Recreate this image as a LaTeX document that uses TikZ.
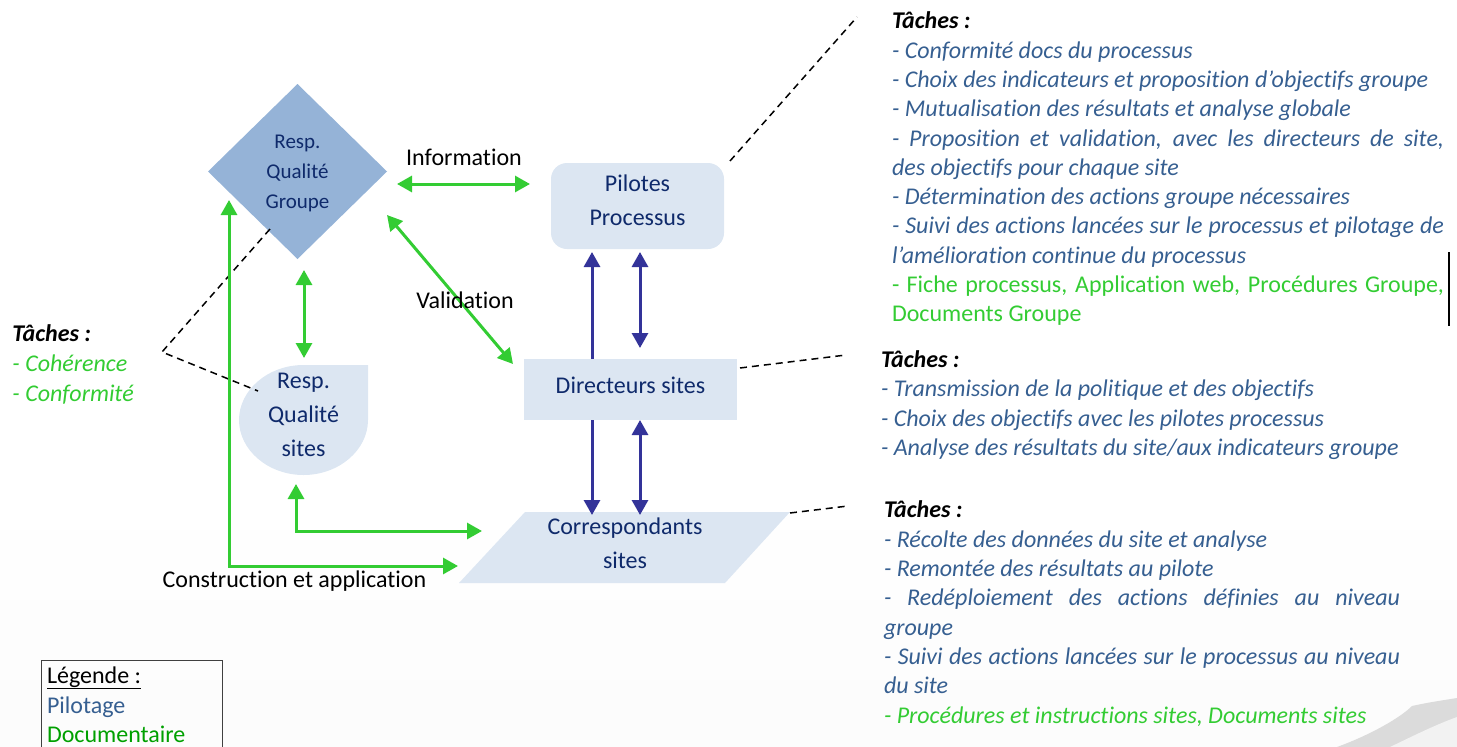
\documentclass[tikz,border=0pt]{standalone}
\usepackage{fontspec}
\setmainfont[Ligatures=NoCommon]{Carlito}
\usetikzlibrary{arrows.meta,shapes.geometric}
\definecolor{navy}{HTML}{0F2A6B}
\definecolor{pale}{HTML}{DCE6F2}
\definecolor{midblue}{HTML}{95B3D7}
\definecolor{gr}{HTML}{33CC33}
\definecolor{ind}{HTML}{333399}
\definecolor{tb}{HTML}{365F91}
\definecolor{dg}{HTML}{00A000}
\definecolor{fogA}{HTML}{FEFEFE}
\definecolor{fogB}{HTML}{FDFDFD}
\definecolor{fogC}{HTML}{FCFCFC}
\newcommand{\fs}{\fontsize{24}{30}\selectfont}
\newcommand{\jl}[2]{\makebox[#1][s]{#2}}
\tikzset{
  shp/.style={inner sep=0,outer sep=0,text=navy,align=center,font=\fs},
  lab/.style={inner sep=0,outer sep=0,text=black,font=\fs},
  tl/.style={inner sep=0,outer sep=0,anchor=base west,yshift=-1pt,font=\fs\itshape,text=tb},
  tlg/.style={tl,text=gr},
  th/.style={tl,font=\fs\bfseries\itshape,text=black},
  lg/.style={inner sep=0,outer sep=0,anchor=base west,font=\fs},
  garr/.style={draw=gr,line width=3pt,{Triangle[length=15pt,width=16pt]}-{Triangle[length=15pt,width=16pt]}},
  barr/.style={draw=ind,line width=3pt,{Triangle[length=15pt,width=16pt]}-{Triangle[length=15pt,width=16pt]}},
  barrs/.style={draw=ind,line width=3pt,-{Triangle[length=15pt,width=16pt]}},
  dsh/.style={draw=black,line width=1.5pt,dash pattern=on 7pt off 5pt},
}
\begin{document}
\begin{tikzpicture}[x=1pt,y=-1pt]
\useasboundingbox (0,0) rectangle (1457,747);
% faint background
\fill[fogA] (0,530) rectangle (1457,747);
\fill[fogB] (0,600) rectangle (1457,747);
\fill[fogC] (0,680) rectangle (1457,747);
\fill[black!14] (1337,747) .. controls (1370,735) and (1400,718) .. (1412,706) .. controls (1430,702) and (1445,700) .. (1457,698) -- (1457,747) -- cycle;
\fill[black!5] (1390,747) .. controls (1415,735) and (1435,725) .. (1457,717) -- (1457,747) -- cycle;
% shapes
\node[shape=diamond,aspect=1.023,minimum width=179pt,minimum height=175pt,fill=midblue,inner sep=0,outer sep=0] (rqg) at (297.5,171.5) {};
\node[shp,font=\fontsize{21}{30}\selectfont] (rqgt) at (297.5,173.5) {Resp.\\Qualité\\Groupe};
\node[rectangle,rounded corners=16pt,fill=pale,minimum width=173pt,minimum height=86pt,inner sep=0,outer sep=0] (pil) at (637.5,206) {};
\node[shp] (pilt) at (637.5,200) {Pilotes\\[4pt]Processus};
\node[rectangle,fill=pale,minimum width=213pt,minimum height=61pt,shp,anchor=center] (dir) at (630.5,389.5) {\raisebox{9pt}{Directeurs sites}};
\fill[pale] (525,512) -- (790,512) -- (725,583) -- (459,583) -- cycle;
\node[shp,minimum width=200pt,minimum height=71pt] (corr) at (625,543.5) {Correspondants\\[4pt]sites};
\fill[pale] (368,365) -- (303.5,365) .. controls (268,365) and (239,390) .. (239,420) .. controls (239,450) and (268,475) .. (303.5,475) .. controls (339,475) and (368,450) .. (368,420) -- cycle;
\node[shp,minimum width=129pt,minimum height=110pt] (rqs) at (303.5,415) {Resp.\\[4pt]Qualité\\[4pt]sites};
% dashed leaders
\coordinate (tg) at (162,352);
\coordinate (dsA) at (270,229);
\coordinate (dsB) at (258,391);
\coordinate (dp1) at (730,161);
\coordinate (dp2) at (857,17);
\coordinate (dd1) at (740,368);
\coordinate (dd2) at (846,355);
\coordinate (dc1) at (790,513);
\coordinate (dc2) at (848,506);
\draw[dsh] (dsA) -- (tg) -- (dsB);
\draw[dsh] (dp1) -- (dp2);
\draw[dsh] (dd1) -- (dd2);
\draw[dsh] (dc1) -- (dc2);
% green connectors
\coordinate (a1) at (397,184);
\coordinate (a2) at (530,184);
\coordinate (b1) at (387,215);
\coordinate (b2) at (513,364);
\coordinate (c1) at (304,270);
\coordinate (c2) at (304,358);
\coordinate (d1) at (229,200);
\coordinate (d2) at (458,566);
\coordinate (e1) at (296,484);
\coordinate (e2) at (482,531);
\draw[garr] (a1) -- (a2);
\draw[garr] (b1) -- (b2);
\draw[garr] (c1) -- (c2);
\draw[garr] (d1) |- (d2);
\draw[garr] (e1) |- (e2);
% blue connectors
\coordinate (f1) at (592,252);
\coordinate (f2) at (592,359);
\coordinate (g1) at (640,252);
\coordinate (g2) at (640,348);
\coordinate (h1) at (592,420);
\coordinate (h2) at (592,515);
\coordinate (i1) at (640,420);
\coordinate (i2) at (640,515);
\draw[barrs] (f2) -- (f1);
\draw[barr] (g1) -- (g2);
\draw[barrs] (h1) -- (h2);
\draw[barr] (i1) -- (i2);
% connector labels
\node[lab] (linfo) at (464,157) {Information};
\node[lab] (lval) at (465,300) {Validation};
\node[lab] (lcons) at (294.5,581) {Construction et application};
% left tasks
\node[th] (t0) at (12.5,340) {Tâches :};
\node[tlg] (t1) at (12.5,370) {- Cohérence};
\node[tlg] (t2) at (12.5,400) {- Conformité};
% top block
\node[th] (p0) at (892,27) {Tâches :};
\node[tl] (p1) at (892,57) {- Conformité docs du processus};
\node[tl] (p2) at (892,86) {- Choix des indicateurs et proposition d’objectifs groupe};
\node[tl] (p3) at (892,115) {- Mutualisation des résultats et analyse globale};
\node[tl] (p4) at (892,145) {\jl{552pt}{- Proposition et validation, avec les directeurs de site,}};
\node[tl] (p5) at (892,174) {des objectifs pour chaque site};
\node[tl] (p6) at (892,203) {- Détermination des actions groupe nécessaires};
\node[tl] (p7) at (892,232) {\jl{552pt}{- Suivi des actions lancées sur le processus et pilotage de}};
\node[tl] (p8) at (892,262) {l’amélioration continue du processus};
\node[tlg,font=\fs] (p9) at (892,291) {\jl{552pt}{- Fiche processus, Application web, Procédures Groupe,}};
\node[tlg,font=\fs] (p10) at (892,320) {Documents Groupe};
\draw[black,line width=1.5pt] (1449,252) -- (1449,326);
% middle block
\node[th] (m0) at (881,366) {Tâches :};
\node[tl] (m1) at (881,395) {- Transmission de la politique et des objectifs};
\node[tl] (m2) at (881,425) {- Choix des objectifs avec les pilotes processus};
\node[tl] (m3) at (881,454) {- Analyse des résultats du site/aux indicateurs groupe};
% lower block
\node[th] (c0) at (884,516) {Tâches :};
\node[tl] (c1t) at (884,546) {- Récolte des données du site et analyse};
\node[tl] (c2t) at (884,575) {- Remontée des résultats au pilote};
\node[tl] (c3t) at (884,604) {\jl{516pt}{- Redéploiement des actions définies au niveau}};
\node[tl] (c4t) at (884,634) {groupe};
\node[tl] (c5t) at (884,663) {\jl{516pt}{- Suivi des actions lancées sur le processus au niveau}};
\node[tl] (c6t) at (884,692) {du site};
\node[tlg] (c7t) at (884,722) {- Procédures et instructions sites, Documents sites};
% legend
\draw[black!75,line width=1pt] (41,748) -- (41,660) -- (222,660) -- (222,748);
\node[lg] (lg0) at (47,683) {\underline{Légende :}};
\node[lg,text=tb] (lg1) at (47,713) {Pilotage};
\node[lg,text=dg] (lg2) at (47,742) {Documentaire};
\end{tikzpicture}
\end{document}
